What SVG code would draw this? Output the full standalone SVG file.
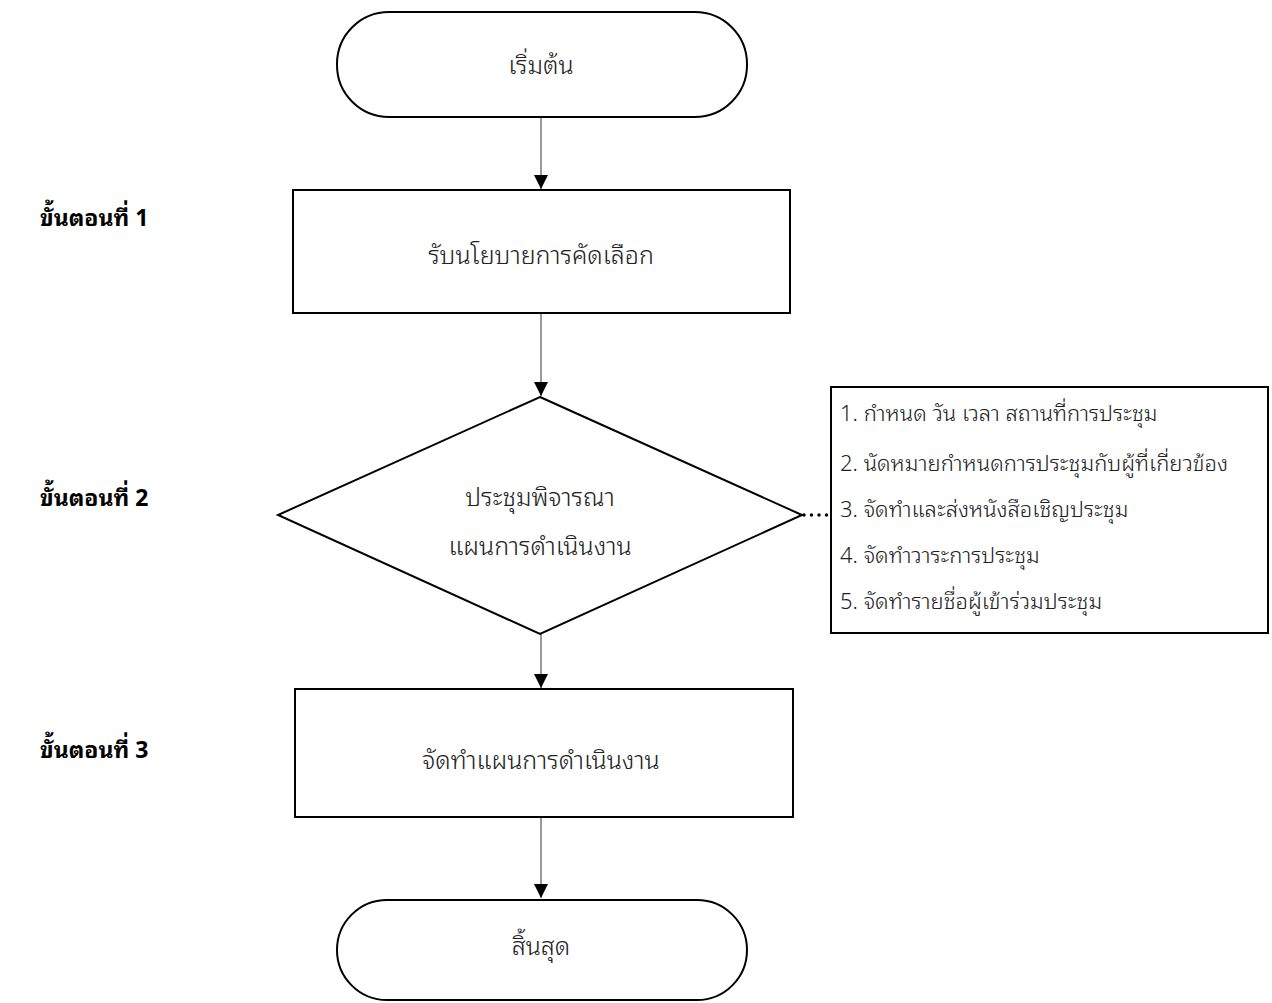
<svg xmlns="http://www.w3.org/2000/svg" width="1272" height="1003" viewBox="0 0 1272 1003">
<style>
.shape{fill:#fff;stroke:#000;stroke-width:2}
.t{font-family:"Noto Sans Thai Looped","Noto Sans Thai","Noto Sans","DejaVu Sans",sans-serif;font-size:25px;font-weight:300;fill:#222;text-anchor:middle}
.s{font-family:"Noto Sans Thai Looped","Noto Sans Thai","Noto Sans","DejaVu Sans",sans-serif;font-size:23px;font-weight:bold;fill:#000}
.l{font-family:"Noto Sans Thai Looped","Noto Sans Thai","Noto Sans","DejaVu Sans",sans-serif;font-size:22px;font-weight:300;fill:#222}
.c{stroke:#333;stroke-width:1;fill:none}
</style>
<defs>
<marker id="arr" viewBox="0 0 14 14" refX="14" refY="7" markerWidth="14" markerHeight="14" markerUnits="userSpaceOnUse" orient="auto">
<path d="M0,0 L14,7 L0,14 Z" fill="#000"/>
</marker>
</defs>
<g id="connectors">
<line class="c" x1="541" y1="117" x2="541" y2="189" marker-end="url(#arr)"/>
<line class="c" x1="541" y1="313" x2="541" y2="396" marker-end="url(#arr)"/>
<line class="c" x1="541" y1="634" x2="541" y2="688" marker-end="url(#arr)"/>
<line class="c" x1="541" y1="817" x2="541" y2="898" marker-end="url(#arr)"/>
<line x1="804" y1="515" x2="830" y2="515" stroke="#000" stroke-width="3.5" stroke-dasharray="0 7.5" stroke-linecap="round"/>
</g>
<g id="start">
<rect class="shape" x="337" y="12" width="410" height="105" rx="52" ry="52"/>
<text class="t" x="541" y="74">เริ่มต้น</text>
</g>
<g id="step1-label"><text class="s" x="40" y="226">ขั้นตอนที่ 1</text></g>
<g id="step2-label"><text class="s" x="40" y="506">ขั้นตอนที่ 2</text></g>
<g id="step3-label"><text class="s" x="40" y="758">ขั้นตอนที่ 3</text></g>
<g id="box1">
<rect class="shape" x="293" y="190" width="497" height="123"/>
<text class="t" x="541" y="264">รับนโยบายการคัดเลือก</text>
</g>
<g id="decision">
<polygon class="shape" points="540,397 802,515 540,634 278,515"/>
<text class="t" x="540" y="506">ประชุมพิจารณา</text>
<text class="t" x="540" y="555">แผนการดำเนินงาน</text>
</g>
<g id="notes">
<rect class="shape" x="831" y="387" width="437" height="246"/>
<text class="l" x="840" y="421">1. กำหนด วัน เวลา สถานที่การประชุม</text>
<text class="l" x="840" y="471">2. นัดหมายกำหนดการประชุมกับผู้ที่เกี่ยวข้อง</text>
<text class="l" x="840" y="517">3. จัดทำและส่งหนังสือเชิญประชุม</text>
<text class="l" x="840" y="563">4. จัดทำวาระการประชุม</text>
<text class="l" x="840" y="609">5. จัดทำรายชื่อผู้เข้าร่วมประชุม</text>
</g>
<g id="box3">
<rect class="shape" x="295" y="689" width="498" height="128"/>
<text class="t" x="541" y="769">จัดทำแผนการดำเนินงาน</text>
</g>
<g id="end">
<rect class="shape" x="337" y="900" width="410" height="100" rx="50" ry="50"/>
<text class="t" x="541" y="955">สิ้นสุด</text>
</g>
</svg>
